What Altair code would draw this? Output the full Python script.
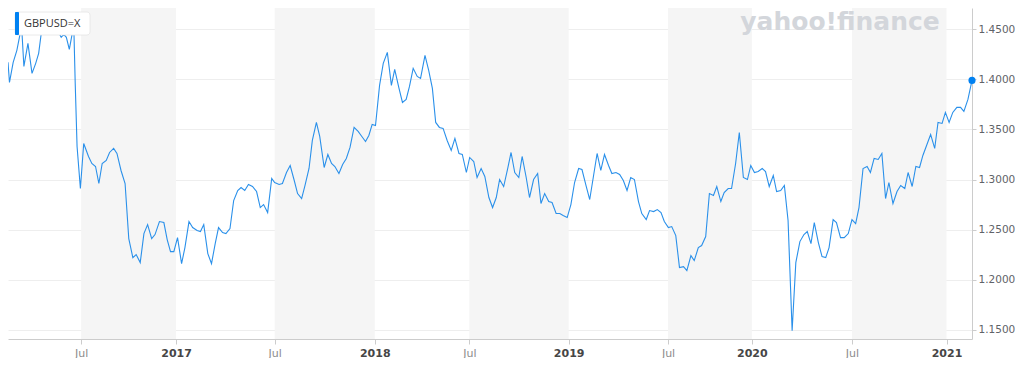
import altair as alt
import pandas as pd

# weekly index (0 = first week shown) and GBP/USD close
weeks = [0.0,0.4,1.4,2.4,3.3,3.7,4.3,5.4,6.5,7.5,8.3,9.0,10.1,11.2,12.2,13.3,14.4,15.1,15.8,16.6,17.4,17.8,18.2,18.7,19.6,20.5,21.8,22.7,23.7,24.6,25.5,26.6,27.5,28.6,29.5,30.6,31.7,32.7,33.8,34.7,35.8,36.8,37.8,38.9,39.8,41.0,42.2,43.1,44.0,44.9,45.9,47.0,47.9,49.0,50.0,51.2,52.1,53.0,54.1,55.1,56.1,57.0,58.1,59.0,60.1,61.1,62.2,63.1,64.1,65.1,66.2,67.3,68.3,69.2,70.3,71.4,72.2,73.4,74.3,75.4,76.4,77.5,78.4,79.5,80.4,81.5,82.4,83.5,84.4,85.6,86.6,87.6,88.5,89.6,90.6,91.6,92.6,93.7,94.8,95.8,96.8,97.7,98.6,99.5,100.6,101.6,102.7,103.8,104.7,105.8,106.8,107.8,108.7,109.7,110.8,111.7,112.9,113.9,114.9,115.8,116.8,117.8,118.9,120.0,121.0,122.1,123.0,124.1,125.0,126.1,127.0,128.1,129.1,130.2,131.2,132.2,133.1,134.2,135.3,136.2,137.2,138.3,139.2,140.3,141.2,142.3,143.4,144.3,145.3,146.4,147.3,148.4,149.4,150.3,151.4,152.4,153.4,154.5,155.4,156.5,157.5,158.5,159.5,160.5,161.5,162.6,163.5,164.6,165.6,166.6,167.6,168.6,169.6,170.7,171.6,172.8,173.7,174.8,175.8,176.8,177.7,178.8,179.7,180.8,181.8,182.9,183.8,184.9,185.8,186.9,187.8,188.9,189.9,191.0,191.9,193.0,193.9,195.0,195.9,197.0,198.0,199.1,200.2,201.1,202.1,203.1,204.2,205.1,206.1,207.2,208.1,209.2,210.2,211.2,212.3,213.3,214.4,215.5,216.4,217.4,218.3,219.4,220.4,221.4,222.3,223.4,224.3,225.4,226.4,227.5,228.5,229.5,230.4,231.5,232.6,233.5,234.5,235.6,236.6,237.6,238.5,239.6,240.7,241.7,242.8,243.7,244.8,245.8,246.8,247.7,248.8,249.8,250.9,251.8,252.9,253.8,254.8,255.8,256.9,257.9,258.8,259.9,261.0]

rates = [1.417,1.397,1.417,1.429,1.446,1.452,1.413,1.436,1.406,1.416,1.426,1.446,1.456,1.463,1.458,1.450,1.442,1.445,1.442,1.430,1.446,1.455,1.396,1.333,1.291,1.336,1.323,1.316,1.313,1.296,1.316,1.319,1.327,1.331,1.326,1.309,1.296,1.241,1.222,1.225,1.217,1.246,1.255,1.241,1.245,1.258,1.257,1.240,1.228,1.228,1.242,1.216,1.232,1.258,1.252,1.249,1.248,1.255,1.226,1.216,1.236,1.252,1.247,1.246,1.251,1.279,1.289,1.292,1.289,1.295,1.293,1.288,1.272,1.275,1.267,1.301,1.297,1.295,1.296,1.307,1.314,1.299,1.286,1.281,1.294,1.311,1.339,1.357,1.343,1.312,1.325,1.316,1.313,1.306,1.315,1.321,1.332,1.352,1.348,1.343,1.338,1.344,1.355,1.354,1.394,1.416,1.427,1.394,1.410,1.392,1.377,1.380,1.393,1.411,1.403,1.401,1.424,1.409,1.391,1.357,1.352,1.351,1.339,1.329,1.341,1.326,1.325,1.307,1.322,1.318,1.302,1.311,1.303,1.282,1.272,1.282,1.300,1.293,1.311,1.327,1.307,1.302,1.323,1.302,1.282,1.300,1.306,1.276,1.286,1.278,1.277,1.266,1.266,1.264,1.262,1.275,1.297,1.311,1.310,1.294,1.280,1.303,1.326,1.309,1.325,1.314,1.306,1.307,1.305,1.299,1.289,1.302,1.300,1.278,1.266,1.260,1.269,1.268,1.270,1.267,1.258,1.252,1.253,1.244,1.212,1.213,1.209,1.224,1.219,1.232,1.234,1.243,1.286,1.284,1.293,1.278,1.287,1.291,1.291,1.316,1.347,1.302,1.300,1.314,1.307,1.308,1.311,1.308,1.293,1.304,1.288,1.289,1.294,1.259,1.149,1.217,1.238,1.245,1.248,1.236,1.257,1.237,1.223,1.222,1.232,1.260,1.257,1.242,1.242,1.246,1.260,1.256,1.272,1.311,1.313,1.307,1.321,1.320,1.326,1.281,1.297,1.276,1.288,1.294,1.291,1.307,1.293,1.313,1.312,1.324,1.335,1.345,1.331,1.357,1.356,1.367,1.357,1.367,1.372,1.372,1.368,1.380,1.399]

tick_weeks = [19.8, 45.5, 72.2, 99.3, 124.9, 151.8, 178.7, 201.4, 228.5, 254.1]
tick_labels = ["Jul", "2017", "Jul", "2018", "Jul", "2019", "Jul", "2020", "Jul", "2021"]
year_ticks = [45.5, 99.3, 151.8, 201.4, 254.1]

band_start = [19.8, 72.2, 124.9, 178.7, 228.5]
band_end = [45.5, 99.3, 151.8, 201.4, 254.1]

y_ticks = [1.15, 1.20, 1.25, 1.30, 1.35, 1.40, 1.45]

series = pd.DataFrame({"week": weeks, "rate": rates})
bands = pd.DataFrame({"start": band_start, "end": band_end})

W, H = 964, 331
xscale = alt.Scale(domain=[0.0, 261.0], nice=False, zero=False)
yscale = alt.Scale(domain=[1.1407, 1.4713], nice=False, zero=False)

labels_js = "[" + ",".join("'%s'" % l for l in tick_labels) + "]"
ticks_js = "[" + ",".join(str(t) for t in tick_weeks) + "]"
years_js = "[" + ",".join(str(t) for t in year_ticks) + "]"

x_axis = alt.Axis(
    values=tick_weeks,
    labelExpr=f"{labels_js}[indexof({ticks_js}, datum.value)]",
    grid=False, title=None,
    domainColor="#cccccc", tickColor="#cccccc", tickSize=5,
    labelFont="DejaVu Sans", labelFontSize=11, labelPadding=3,
    labelOverlap=False, labelFlush=False,
    labelColor={"condition": {"test": f"indexof({years_js}, datum.value) >= 0", "value": "#464646"}, "value": "#8c8c8c"},
    labelFontWeight={"condition": {"test": f"indexof({years_js}, datum.value) >= 0", "value": "bold"}, "value": "normal"},
)
y_axis = alt.Axis(
    orient="right", values=y_ticks, format=".4f", title=None,
    grid=True, gridColor="#eeeeee", domainColor="#cccccc", tickColor="#cccccc",
    tickSize=4, labelPadding=2, labelFont="DejaVu Sans", labelFontSize=10.5,
    labelColor="#5f6368",
)

band_layer = alt.Chart(bands).mark_rect(color="#f5f5f5").encode(
    x=alt.X("start:Q", scale=xscale, axis=x_axis),
    x2="end:Q",
    y=alt.value(0),
    y2=alt.value(H),
)

line_layer = alt.Chart(series).mark_line(color="#2a90ea", strokeWidth=1.1, clip=True).encode(
    x=alt.X("week:Q", scale=xscale, axis=x_axis),
    y=alt.Y("rate:Q", scale=yscale, axis=y_axis),
)

dot_layer = alt.Chart(series.tail(1)).mark_circle(color="#0081f2", size=50, opacity=1).encode(
    x=alt.X("week:Q", scale=xscale, axis=x_axis),
    y=alt.Y("rate:Q", scale=yscale, axis=y_axis),
)

one = alt.Data(values=[{}])
watermark = alt.Chart(one).mark_text(
    text="yahoo!finance", font="DejaVu Sans", fontSize=25, fontWeight="bold",
    color="#d3d6db", align="center", baseline="alphabetic",
).encode(x=alt.value(832), y=alt.value(22))

box = alt.Chart(one).mark_rect(
    fill="white", stroke="#e4e4e4", strokeWidth=0.8, cornerRadius=3,
).encode(x=alt.value(7), x2=alt.value(82), y=alt.value(4), y2=alt.value(27))

accent = alt.Chart(one).mark_rect(fill="#0081f2", cornerRadius=1).encode(
    x=alt.value(7), x2=alt.value(11), y=alt.value(4), y2=alt.value(27)
)

box_text = alt.Chart(one).mark_text(
    text="GBPUSD=X", font="Open Sans", fontSize=11, color="#333333",
    align="left", baseline="middle",
).encode(x=alt.value(16), y=alt.value(16))

chart = alt.layer(
    band_layer, watermark, line_layer, dot_layer, box, accent, box_text
).properties(
    width=W, height=H, padding=0, background="white"
).configure_view(stroke=None)

chart.save("out.html", embed_options={"renderer": "svg", "actions": False})
